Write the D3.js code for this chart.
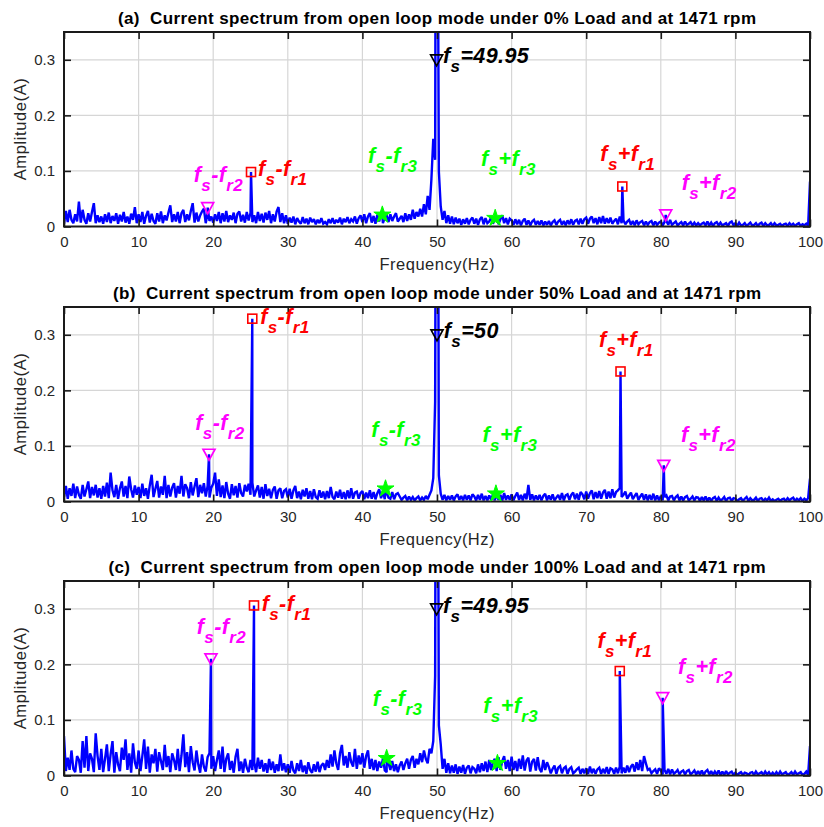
<!DOCTYPE html>
<html><head><meta charset="utf-8">
<script src="https://cdn.jsdelivr.net/npm/d3@7"></script>
<style>body{margin:0;background:#fff} svg{display:block;font-family:"Liberation Sans",Arial,Helvetica,sans-serif} text{white-space:pre}</style>
</head><body><svg id="chart" width="824" height="827"></svg>
<script>
// ---------------- DATA ----------------
const freqStep = 0.25;            // Hz between spectrum samples (0 .. 100 Hz)
const xTicks = [0,10,20,30,40,50,60,70,80,90,100];
const yTicks = [0,0.1,0.2,0.3];
const yTickLabels = ["0","0.1","0.2","0.3"];
const xLabel = "Frequency(Hz)";
const yLabel = "Amplitude(A)";
const titles = [
  "(a)  Current spectrum from open loop mode under 0% Load and at 1471 rpm",
  "(b)  Current spectrum from open loop mode under 50% Load and at 1471 rpm",
  "(c)  Current spectrum from open loop mode under 100% Load and at 1471 rpm"
];

// spectrum amplitudes in mA, one per 0.25 Hz step
const spectrumA_mA = [
5,28,8,30,12,6,22,9,45,7,30,12,5,24,9,26,42,6,20,8,
18,5,22,8,25,6,19,10,24,5,21,9,26,7,18,5,23,12,35,6,
22,8,26,5,19,28,7,23,10,5,24,9,27,6,20,11,25,38,8,22,
9,26,6,24,30,8,22,11,28,42,7,25,9,20,27,32,6,24,10,18,
7,22,10,26,6,24,9,28,8,20,12,25,6,23,27,9,21,7,26,11,
24,8,20,6,26,10,23,7,25,12,28,6,22,9,27,35,8,24,6,20,
5,16,7,18,4,15,9,5,17,6,14,4,16,8,13,4,12,6,15,5,
8,4,13,6,15,5,12,7,16,4,14,8,17,6,13,9,18,5,15,20,
8,22,6,18,24,7,19,5,21,9,23,6,16,20,8,22,10,18,24,9,
14,19,8,24,10,22,12,30,14,26,18,32,18,40,22,55,30,85,158,120,
900,99,36,12,28,6,20,5,18,4,16,6,14,3,13,5,15,4,12,16,
5,14,3,13,17,4,15,6,9,16,5,14,18,4,13,20,6,15,4,14,
11,3,13,4,12,2,10,14,3,11,2,9,12,3,10,3,11,2,9,3,
10,2,8,11,3,9,12,3,10,2,11,4,13,3,10,12,4,14,5,13,
16,5,14,18,6,15,4,17,6,19,5,15,6,16,5,10,14,4,18,6,
11,4,9,12,3,10,2,11,4,8,10,2,9,3,8,10,2,9,3,7,
9,2,8,10,3,12,3,6,9,2,5,8,2,9,3,5,8,2,7,2,
6,2,5,7,2,9,2,7,1,6,8,2,7,2,4,6,1,7,9,2,
6,1,7,2,3,6,1,4,7,2,3,6,1,5,7,1,6,2,3,6,
1,6,2,3,5,1,4,5,1,6,2,5,1,4,6,1,4,2,5,1,81
];
const spectrumB_mA = [
8,28,5,24,10,32,6,27,12,5,30,9,22,36,6,26,11,30,7,24,
5,28,9,34,6,52,20,8,30,5,24,36,9,28,6,45,22,7,29,12,
26,6,32,10,24,5,29,48,8,23,37,7,27,12,46,6,30,9,25,33,
7,28,14,46,9,31,24,6,35,11,27,42,8,30,15,33,9,28,7,25,
32,52,10,40,8,29,6,35,14,5,31,11,28,7,33,15,9,30,18,32,
12,34,9,20,29,7,26,5,31,10,23,6,21,27,5,20,24,6,19,22,
7,23,5,20,28,6,18,4,21,9,24,5,19,4,22,8,5,20,7,18,
4,19,6,26,8,4,18,7,21,5,17,4,20,6,24,5,16,18,5,15,
19,4,16,6,20,5,17,4,15,22,6,18,4,16,7,5,17,4,13,15,
9,3,7,10,2,9,3,8,2,6,9,2,7,3,10,4,12,20,42,180,
1500,47,14,3,12,2,10,3,11,2,9,13,3,10,2,12,3,11,2,13,
9,2,12,3,14,2,10,2,11,3,13,2,10,3,12,2,15,3,11,3,
13,2,10,16,3,12,2,14,4,30,3,13,2,11,3,12,2,10,14,2,
11,3,13,2,7,12,3,15,2,11,13,3,12,16,4,14,3,17,13,4,
18,5,15,20,4,17,6,19,5,16,21,5,18,6,22,7,17,20,24,8,
12,18,5,11,16,4,10,15,3,9,14,3,13,2,12,3,14,2,11,2,
10,2,8,11,2,9,10,2,8,11,2,9,2,8,10,2,5,9,2,8,
7,1,8,2,9,1,7,1,6,8,1,7,2,4,8,1,6,7,1,6,
5,1,4,6,1,5,8,1,6,2,3,7,1,5,6,1,5,2,7,1,
4,1,3,5,1,4,5,1,6,2,5,7,1,5,2,6,1,5,2,6,41
];
const spectrumC_mA = [
71,8,32,10,45,12,6,35,28,5,62,14,71,8,40,30,6,76,35,10,
48,6,30,56,8,38,62,5,42,20,8,50,28,65,10,40,5,58,24,12,
45,8,35,65,12,52,5,38,22,48,7,42,26,10,55,15,35,6,40,28,
10,48,8,36,74,15,42,6,53,24,9,45,20,5,38,16,7,33,40,12,
35,8,28,45,12,52,6,30,40,10,26,5,34,48,8,25,5,30,14,6,
28,10,24,6,32,12,28,7,22,5,30,10,25,5,20,8,38,9,22,6,
20,5,26,9,4,22,8,28,6,18,3,24,10,5,20,7,25,6,18,22,
10,28,14,38,16,45,22,10,40,55,18,35,14,42,24,16,48,12,36,20,
40,14,35,45,12,30,10,28,8,25,14,30,9,6,22,10,26,8,20,6,
18,25,10,22,30,12,28,35,14,30,20,40,24,45,30,22,48,40,62,180,
1200,90,56,12,30,5,22,4,18,5,20,3,16,5,19,3,14,18,4,15,
12,4,20,6,22,8,25,6,28,10,24,30,8,33,10,26,35,12,28,8,
34,10,26,8,30,12,36,9,27,32,7,25,30,9,33,12,6,28,10,24,
15,4,12,18,3,14,17,4,13,16,3,12,15,4,7,11,14,3,12,4,
13,3,16,4,12,3,11,14,3,12,4,15,3,13,11,3,14,4,16,4,
14,5,18,6,16,20,7,24,10,28,8,35,22,10,12,4,8,11,3,13,
9,2,10,3,12,2,11,3,6,10,2,7,9,2,8,10,2,5,9,2,
8,2,9,1,7,10,2,8,1,7,2,9,1,7,1,8,2,5,7,1,
5,1,4,6,1,5,4,1,5,6,1,7,2,4,6,1,7,2,6,1,
5,1,6,1,7,2,4,6,1,3,6,1,7,2,4,6,1,3,7,1,53
];

// characteristic components: order = fs-fr2, fs-fr1, fs-fr3, fs, fs+fr3, fs+fr1, fs+fr2
const markerKinds = ["r2","r1","r3","fs","r3","r1","r2"];
const peakFreqA = [19.26, 25.07, 42.67, 49.95, 57.8, 74.84, 80.66];
const peakAmpA  = [0.034, 0.098, 0.021, 1.5, 0.015, 0.072, 0.021];
const markAmpA  = [0.034, 0.098, 0.021, 0.30, 0.015, 0.072, 0.021];
const peakFreqB = [19.44, 25.24, 43.1, 50.0, 57.9, 74.6, 80.4];
const peakAmpB  = [0.085, 0.329, 0.023, 1.5, 0.014, 0.234, 0.065];
const markAmpB  = [0.085, 0.329, 0.023, 0.30, 0.014, 0.234, 0.065];
const peakFreqC = [19.7, 25.47, 43.25, 49.95, 58.1, 74.5, 80.25];
const peakAmpC  = [0.21, 0.306, 0.031, 1.5, 0.022, 0.188, 0.14];
const markAmpC  = [0.21, 0.306, 0.031, 0.30, 0.022, 0.188, 0.14];

// annotation texts
const labelSign = ["-","-","-","=","+","+","+"];
const labelSub2 = ["r2","r1","r3","","r3","r1","r2"];
const fsValues = ["49.95","50","49.95"];
// annotation anchor points in data units (Hz, A)
const labelXA = [17.4, 26.0, 40.75, 50.8, 55.9, 71.9, 82.8];
const labelYA = [0.080, 0.090, 0.115, 0.295, 0.108, 0.117, 0.066];
const labelXB = [17.6, 26.3, 41.2, 50.9, 56.1, 71.7, 82.7];
const labelYB = [0.128, 0.319, 0.116, 0.294, 0.107, 0.278, 0.107];
const labelXC = [17.8, 26.5, 41.4, 50.8, 56.2, 71.5, 82.3];
const labelYC = [0.254, 0.296, 0.125, 0.293, 0.112, 0.230, 0.182];

// ---------------- STYLE / LAYOUT ----------------
const kindColor = {r1:"#FF0000", r2:"#FF00FF", r3:"#00FF00", fs:"#000000"};
const left = 64, right = 810, panelH = 194.5;
const panelTops = [32, 307, 581];
const titleWidths = [638, 648, 657];

const panels = [
  {spec: spectrumA_mA, pf: peakFreqA, pa: peakAmpA, ma: markAmpA, lx: labelXA, ly: labelYA},
  {spec: spectrumB_mA, pf: peakFreqB, pa: peakAmpB, ma: markAmpB, lx: labelXB, ly: labelYB},
  {spec: spectrumC_mA, pf: peakFreqC, pa: peakAmpC, ma: markAmpC, lx: labelXC, ly: labelYC}
];

const svg = d3.select("#chart");
const x = d3.scaleLinear().domain([0,100]).range([left,right]);
const FONT = '"Liberation Sans",Arial,sans-serif';

panels.forEach((p, pi) => {
  const top = panelTops[pi], bottom = top + panelH;
  const y = d3.scaleLinear().domain([0,0.35]).range([bottom, top]);
  const g = svg.append("g");

  // grid
  g.append("g").selectAll("line").data(xTicks.slice(1,-1)).join("line")
    .attr("x1", d=>x(d)).attr("x2", d=>x(d)).attr("y1", top).attr("y2", bottom)
    .attr("stroke", "#d6d6d6").attr("stroke-width", 1.2);
  g.append("g").selectAll("line").data(yTicks.slice(1)).join("line")
    .attr("y1", d=>y(d)).attr("y2", d=>y(d)).attr("x1", left).attr("x2", right)
    .attr("stroke", "#d6d6d6").attr("stroke-width", 1.2);

  // data line
  const pts = p.spec.map((v,i)=>({f:i*freqStep, a:v/1000}));
  p.pf.forEach((f,i)=>pts.push({f, a:p.pa[i]}));
  pts.sort((a,b)=>a.f-b.f);
  const clipId = "clip"+pi;
  svg.append("clipPath").attr("id", clipId).append("rect")
    .attr("x", left).attr("y", top).attr("width", right-left).attr("height", panelH);
  g.append("path").datum(pts).attr("clip-path", `url(#${clipId})`)
    .attr("fill","none").attr("stroke","#0000FF").attr("stroke-width",2.4)
    .attr("stroke-linejoin","miter").attr("stroke-miterlimit",2)
    .attr("d", d3.line().x(d=>x(d.f)).y(d=>y(d.a)));

  // axes
  const tickLen = 7;
  const axB = d3.axisBottom(x).tickValues(xTicks).tickSize(-tickLen).tickPadding(10).tickFormat(d3.format("d"));
  const axT = d3.axisTop(x).tickValues(xTicks).tickSize(-tickLen).tickFormat("");
  const axL = d3.axisLeft(y).tickValues(yTicks).tickSize(-tickLen).tickPadding(9).tickFormat((d,i)=>yTickLabels[i]);
  const axR = d3.axisRight(y).tickValues(yTicks).tickSize(-tickLen).tickFormat("");
  const styleAx = sel => {
    sel.select(".domain").remove();
    sel.selectAll("line").attr("stroke","#1a1a1a").attr("stroke-width",1.6);
    sel.selectAll("text").attr("fill","#262626").style("font-size","15px").style("font-family",FONT);
  };
  g.append("g").attr("transform",`translate(0,${bottom})`).call(axB).call(styleAx);
  g.append("g").attr("transform",`translate(0,${top})`).call(axT).call(styleAx);
  g.append("g").attr("transform",`translate(${left},0)`).call(axL).call(styleAx);
  g.append("g").attr("transform",`translate(${right},0)`).call(axR).call(styleAx);
  g.append("rect").attr("x",left).attr("y",top).attr("width",right-left).attr("height",panelH)
    .attr("fill","none").attr("stroke","#1a1a1a").attr("stroke-width",2);

  // labels
  g.append("text").attr("x",(left+right)/2).attr("y",top-8).attr("text-anchor","middle")
    .attr("textLength",titleWidths[pi]).attr("lengthAdjust","spacing")
    .style("font-size","17px").style("font-weight","bold").attr("fill","#000").text(titles[pi]);
  g.append("text").attr("x",(left+right)/2).attr("y",bottom+43).attr("text-anchor","middle")
    .attr("textLength",115).attr("lengthAdjust","spacing")
    .style("font-size","16.5px").attr("fill","#262626").text(xLabel);
  g.append("text").attr("transform",`translate(26,${(top+bottom)/2}) rotate(-90)`).attr("text-anchor","middle")
    .attr("textLength",102).attr("lengthAdjust","spacing")
    .style("font-size","16.5px").attr("fill","#262626").text(yLabel);

  // markers
  const mg = g.append("g");
  markerKinds.forEach((k,i)=>{
    const cx = x(p.pf[i]), cy = y(p.ma[i]), col = kindColor[k];
    if (k==="r1") {
      mg.append("rect").attr("x",cx-4.5).attr("y",cy-4.5).attr("width",9).attr("height",9)
        .attr("fill","none").attr("stroke",col).attr("stroke-width",1.6);
    } else if (k==="r3") {
      mg.append("path").attr("transform",`translate(${cx},${cy})`)
        .attr("d", d3.symbol(d3.symbolStar, 90)()).attr("fill",col).attr("stroke",col).attr("stroke-width",1);
    } else {
      mg.append("path").attr("transform",`translate(${cx},${cy})`)
        .attr("d","M-6,-5L6,-5L0,6Z").attr("fill","none").attr("stroke",col).attr("stroke-width",1.7);
    }
  });

  // annotations
  markerKinds.forEach((k,i)=>{
    const t = g.append("text").attr("x",x(p.lx[i])).attr("y",y(p.ly[i]))
      .attr("fill",kindColor[k]).style("font-weight","bold").style("font-style","italic")
      .style("letter-spacing","0.4px").style("font-family",FONT);
    t.append("tspan").style("font-size","21.5px").text("f");
    t.append("tspan").style("font-size","17px").attr("dy",9).text("s");
    if (k==="fs") {
      t.append("tspan").style("font-size","21.5px").attr("dy",-9).text("=" + fsValues[pi]);
    } else {
      t.append("tspan").style("font-size","21.5px").attr("dy",-9).text(labelSign[i] + "f");
      t.append("tspan").style("font-size","17px").attr("dy",9).text(labelSub2[i]);
    }
  });
});
</script></body></html>
